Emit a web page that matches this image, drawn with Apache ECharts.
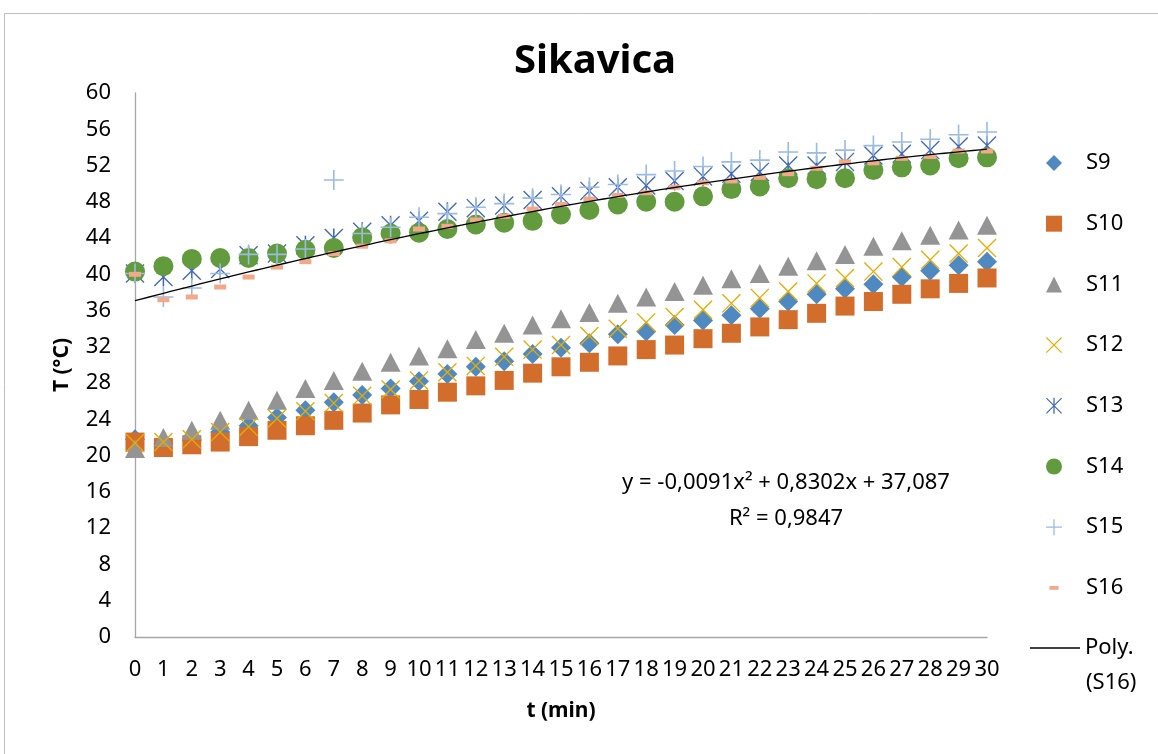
<!DOCTYPE html>
<html>
<head>
<meta charset="utf-8">
<script src="https://cdn.jsdelivr.net/npm/echarts@6/dist/echarts.min.js"></script>
<style>html,body{margin:0;padding:0;background:#fff}#c{width:1158px;height:754px}</style>
</head>
<body>
<div id="c"></div>
<script>
const minutes = [0,1,2,3,4,5,6,7,8,9,10,11,12,13,14,15,16,17,18,19,20,21,22,23,24,25,26,27,28,29,30];
const S9  = [21.8,21.3,21.7,22.6,23.3,24.2,25.0,25.9,26.7,27.4,28.2,29.0,29.8,30.4,31.2,31.9,32.4,33.4,33.7,34.4,34.9,35.5,36.2,37.0,37.8,38.4,38.9,39.7,40.4,41.0,41.4];
const S10 = [21.5,20.9,21.2,21.5,22.1,22.8,23.3,23.9,24.7,25.6,26.2,27.0,27.7,28.3,29.1,29.8,30.3,31.0,31.7,32.2,32.9,33.5,34.2,35.0,35.7,36.5,37.0,37.8,38.4,39.0,39.6];
const S11 = [20.8,22.0,22.8,23.9,25.0,26.1,27.4,28.3,29.3,30.3,31.0,31.8,32.8,33.5,34.4,35.1,35.8,36.8,37.5,38.1,38.8,39.5,40.1,40.9,41.5,42.2,43.1,43.7,44.3,44.9,45.4];
const S12 = [21.4,21.5,21.8,22.6,23.2,24.1,24.9,25.8,26.6,27.3,28.3,29.2,29.9,30.9,31.7,32.2,33.2,34.0,34.7,35.3,36.1,36.8,37.4,38.1,39.0,39.6,40.3,40.8,41.6,42.3,42.9];
const S13 = [40.1,39.7,40.4,40.6,42.1,42.3,43.2,44.0,44.7,45.4,45.9,46.9,47.3,47.6,48.2,48.6,49.2,49.6,49.8,50.3,50.8,51.1,51.3,52.0,52.0,52.4,53.1,53.3,53.7,54.1,54.2];
const S14 = [40.3,40.9,41.7,41.8,41.8,42.3,42.7,42.9,44.1,44.5,44.6,45.0,45.5,45.7,45.9,46.6,47.1,47.7,48.0,48.0,48.6,49.4,49.7,50.6,50.5,50.6,51.5,51.8,52.0,52.8,52.9];
const S15 = [40.1,37.5,38.5,40.1,42.2,42.2,42.8,50.4,44.5,45.2,46.3,46.7,47.4,47.8,48.4,48.8,49.6,49.9,51.0,51.4,51.9,52.4,52.6,53.5,53.4,53.7,54.2,54.6,54.9,55.4,55.7];
const S16 = [40.0,37.2,37.5,38.6,39.7,40.8,41.4,42.3,43.1,43.7,45.0,45.3,46.0,46.4,47.2,47.7,48.3,48.7,49.0,49.6,50.1,50.3,50.7,51.1,51.7,52.4,52.3,52.8,53.0,53.6,53.6];
// trendline coefficients as printed on the chart: a*x^2 + b*x + c
const trendCoefs = [-0.0091, 0.8302, 37.087];
const trendText = ['y = -0,0091x\u00B2 + 0,8302x + 37,087', 'R\u00B2 = 0,9847'];
const yTicks = {min: 0, max: 60, step: 4};
const xTicks = {min: 0, max: 30, step: 1};

const FONT = "'Noto Sans', 'Open Sans', sans-serif";
const pair = arr => minutes.map((m, i) => [m, arr[i]]);
const trendData = [];
for (let k = 0; k <= 120; k++) {
  const x = xTicks.min + k * (xTicks.max - xTicks.min) / 120;
  trendData.push([x, trendCoefs[0]*x*x + trendCoefs[1]*x + trendCoefs[2]]);
}

const P_X = 'path://M0,1L1,0L20,19L19,20ZM20,1L1,20L0,19L19,0Z';
const P_AST = 'path://M0,1L1,0L20,19L19,20ZM20,1L1,20L0,19L19,0ZM9.2,0L10.8,0L10.8,20L9.2,20Z';
const P_PLUS = 'path://M9.2,0L10.8,0L10.8,9.2L20,9.2L20,10.8L10.8,10.8L10.8,20L9.2,20L9.2,10.8L0,10.8L0,9.2L9.2,9.2Z';
const P_DASH = 'path://M0,5L12,5L12,10L0,10ZM6,-3L6,-3M6,18L6,18';
const P_LINE = 'path://M0,0L50,0L50,1.3L0,1.3Z';

const defs = [
  {name:'S9',  data:S9,  symbol:'diamond',  size:20, color:'#4F89C0'},
  {name:'S10', data:S10, symbol:'rect',     size:19, color:'#D36D2B'},
  {name:'S11', data:S11, symbol:'triangle', size:[20,19], color:'#949494'},
  {name:'S12', data:S12, symbol:P_X,        size:19, color:'#E6AC00'},
  {name:'S13', data:S13, symbol:P_AST,      size:19, color:'#4169B8'},
  {name:'S14', data:S14, symbol:'circle',   size:20, color:'#619B3D'},
  {name:'S15', data:S15, symbol:P_PLUS,     size:20, color:'#9BBBE3'},
  {name:'S16', data:S16, symbol:'rect',     size:[12,5], color:'#F2A98A'}
];

const series = defs.map(d => ({
  name: d.name, type: 'scatter', data: pair(d.data),
  symbol: d.symbol, symbolSize: d.size,
  itemStyle: {color: d.color, opacity: 1},
  emphasis: {disabled: true}, silent: true, animation: false
}));
series.push({
  name: 'Poly. (S16)', type: 'line', data: trendData, showSymbol: false, symbol: 'none',
  itemStyle: {color: '#000'},
  lineStyle: {color: '#000', width: 1.3}, smooth: false, silent: true, animation: false, z: 5
});

const legendIcons = {S9:'diamond', S10:'rect', S11:'triangle', S12:P_X, S13:P_AST, S14:'circle', S15:P_PLUS, S16:P_DASH};

const chart = echarts.init(document.getElementById('c'), null, {renderer: 'canvas'});
chart.setOption({
  backgroundColor: '#fff',
  animation: false,
  textStyle: {fontFamily: FONT},
  title: {
    text: 'Sikavica', left: 590, top: 37, textAlign: 'center',
    textStyle: {fontFamily: FONT, fontWeight: 'bold', fontSize: 40, color: '#000'}
  },
  grid: {left: 135, right: 171, top: 93, bottom: 117, containLabel: false},
  xAxis: {
    type: 'value', min: xTicks.min, max: xTicks.max, interval: xTicks.step,
    name: 't (min)', nameLocation: 'middle', nameGap: 64,
    nameTextStyle: {fontFamily: FONT, fontWeight: 'bold', fontSize: 21, color: '#000'},
    axisLine: {show: true, lineStyle: {color: '#a6a6a6', width: 1.3}},
    axisTick: {show: false}, splitLine: {show: false},
    axisLabel: {fontFamily: FONT, fontSize: 22, color: '#000', margin: 22, hideOverlap: false}
  },
  yAxis: {
    type: 'value', min: yTicks.min, max: yTicks.max, interval: yTicks.step,
    name: 'T (\u00B0C)', nameLocation: 'middle', nameGap: 62, nameRotate: 90,
    nameTextStyle: {fontFamily: FONT, fontWeight: 'bold', fontSize: 21, color: '#000'},
    axisLine: {show: true, lineStyle: {color: '#a6a6a6', width: 1.3}},
    axisTick: {show: false}, splitLine: {show: false},
    axisLabel: {fontFamily: FONT, fontSize: 22, color: '#000', margin: 24}
  },
  legend: [
    {
      orient: 'vertical', left: 1046, top: 152, padding: 0,
      itemWidth: 16, itemHeight: 16, itemGap: 38.7, selectedMode: false,
      symbolKeepAspect: true,
      data: defs.map(d => ({name: d.name, icon: legendIcons[d.name]})),
      textStyle: {fontFamily: FONT, fontSize: 22, color: '#000', lineHeight: 22, padding: [0,0,0,19]}
    },
    {
      orient: 'vertical', left: 1030, top: 637, padding: 0,
      itemWidth: 50, itemHeight: 14, selectedMode: false, symbolKeepAspect: true,
      data: [{name: 'Poly. (S16)', icon: P_LINE, itemStyle: {color: '#000'}}],
      formatter: () => 'Poly.',
      textStyle: {fontFamily: FONT, fontSize: 22, color: '#000', lineHeight: 22}
    }
  ],
  graphic: [
    {type: 'rect', silent: true, z: -10, shape: {x: 4.5, y: 13.5, width: 1170, height: 770},
     style: {fill: 'none', stroke: '#bfbfbf', lineWidth: 1}},
    {type: 'text', silent: true, left: 1086, top: 672,
     style: {text: '(S16)', font: "22px " + FONT, fill: '#000'}},
    {type: 'text', silent: true, x: 786, y: 483,
     style: {text: trendText[0], font: "22px " + FONT, fill: '#000', align: 'center', verticalAlign: 'middle'}},
    {type: 'text', silent: true, x: 786, y: 519,
     style: {text: trendText[1], font: "22px " + FONT, fill: '#000', align: 'center', verticalAlign: 'middle'}}
  ],
  series: series
});
</script>
</body>
</html>
